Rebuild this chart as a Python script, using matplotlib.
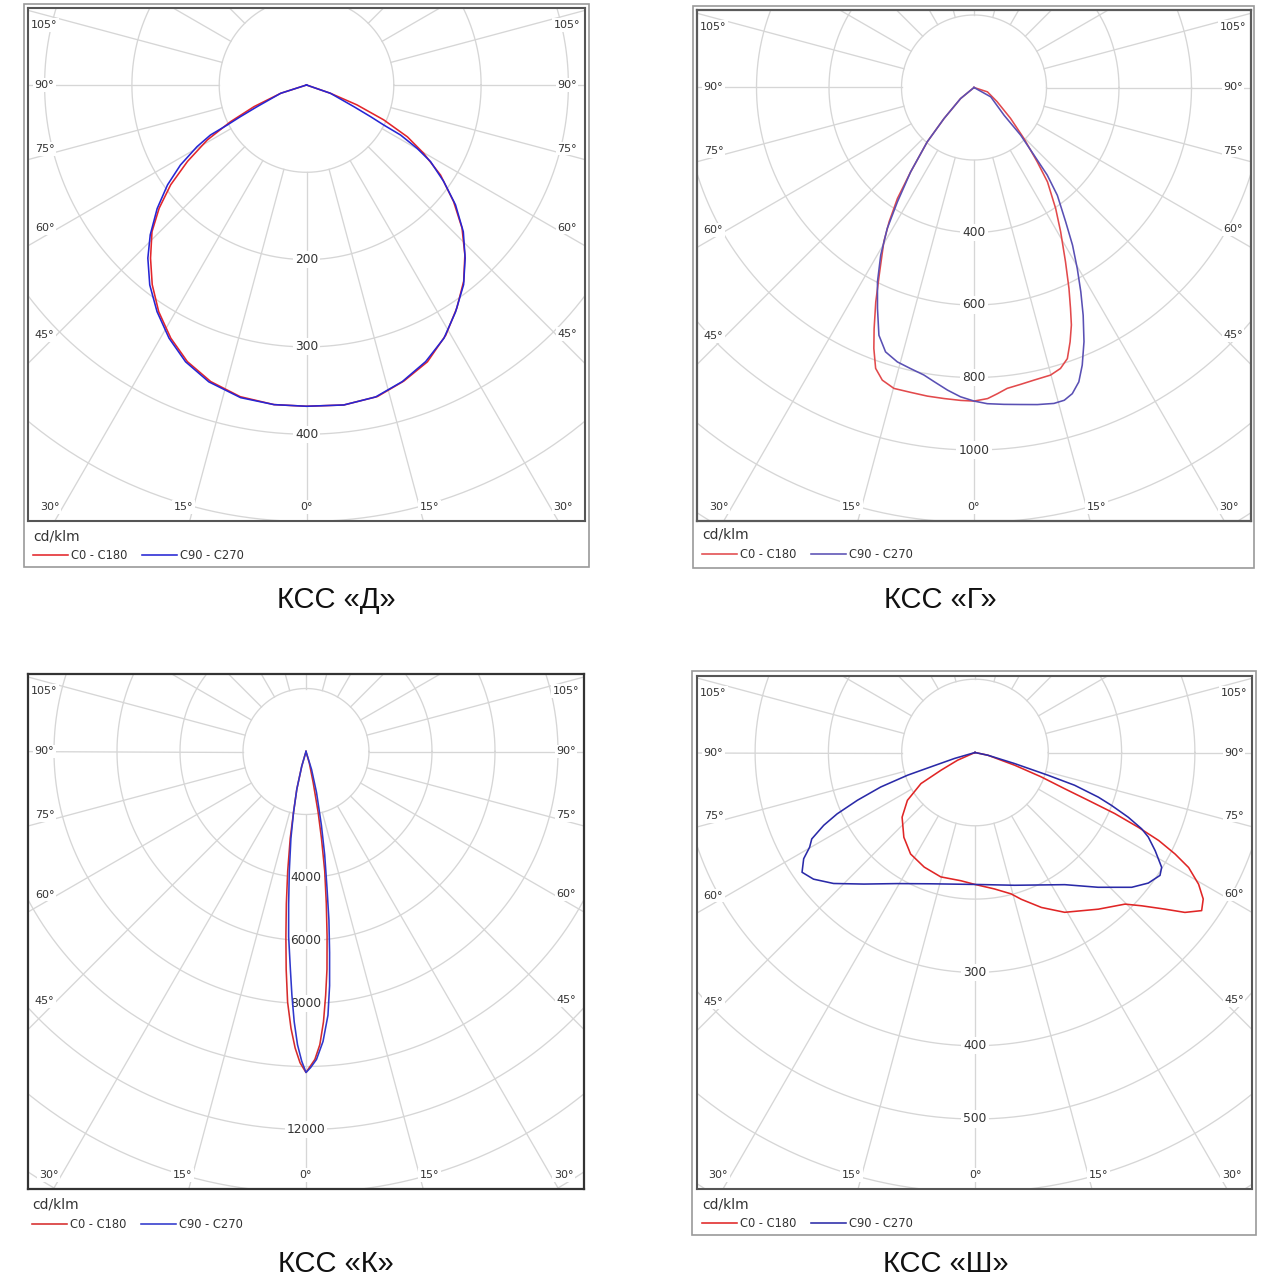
import numpy as np
import matplotlib
matplotlib.use("Agg")
import matplotlib.pyplot as plt
from matplotlib.patches import Rectangle

W = H = 1280

# ───── data: gamma (deg from nadir, negative = left half), intensity cd/klm ─────
# КСС «Д»
d_red_gamma = [-90, -72.2, -67.6, -64.2, -61, -57.3, -53.7, -50.1, -46.5, -42, -37.7, -33.1,
               -28.2, -23.3, -17.9, -12, -5.8, 0, 6.65, 12.8, 18.2, 23.6, 29.1, 34, 38.7, 43,
               47.4, 51.6, 56.1, 59.8, 62.8, 65.7, 68.5, 70.9, 90]
d_red_cd = [0, 31, 65, 97, 130, 162, 193, 220, 244, 267, 289, 310, 329, 345, 357, 365, 368,
            368, 369, 366, 357, 346, 328, 308, 288, 266, 242, 215, 185, 155, 130, 97, 62, 29, 0]
d_blue_gamma = [-90, -72.2, -66.3, -64.4, -63.2, -62.5, -60.6, -57.6, -54.3, -50.4, -46.2, -42.5,
                -38.1, -33.4, -28.5, -23.6, -18.2, -11.9, -5.8, 0, 6.65, 12.5, 17.9, 23.3, 28.5,
                33.3, 38.2, 42.5, 46.9, 51.2, 54.9, 58.3, 60.2, 62, 62.6, 63.7, 65.4, 70.9, 90]
d_blue_cd = [0, 31, 62, 84, 102, 124, 144, 171, 196, 222, 248, 269, 291, 311, 330, 346, 358,
             366, 368, 368, 369, 366, 357, 345, 330, 311, 291, 269, 246, 219, 192, 167, 146,
             122, 100, 82, 60, 29, 0]

# КСС «Г»
g_red_gamma = [-90, -50.5, -44, -40.7, -36.9, -34.6, -32.3, -30.3, -26.8, -24.6, -22.5, -21,
               -19.3, -17.4, -14.9, -11.7, -8.6, -5.5, -2.4, 0, 2.5, 4.4, 6.3, 8.9, 11.6, 14.9,
               17.1, 19, 20.7, 22.3, 23.6, 25.3, 27.7, 31, 34, 37.9, 40.4, 44.4, 49.8, 58.4, 72, 90]
g_red_cd = [0, 48, 119, 198, 291, 372, 438, 493, 580, 651, 720, 771, 821, 846, 859, 859, 861,
            862, 864, 865, 859, 847, 835, 829, 824, 821, 811, 791, 750, 708, 665, 613, 543, 464,
            403, 330, 269, 197, 132, 75, 39, 0]
g_blue_gamma = [-90, -50.5, -44, -40.7, -36.9, -33.8, -31.6, -29.1, -26.4, -23.6, -21, -18.5,
                -15.6, -12.7, -9.9, -7.7, -5, -2.5, 0, 2.4, 5.4, 8.4, 11.3, 14.2, 16.1, 17.8,
                19.6, 21.3, 23.4, 25.6, 27.6, 29.7, 32, 34.3, 37.7, 39.9, 41.6, 44.4, 47.3, 60.8, 90]
g_blue_cd = [0, 48, 119, 198, 291, 380, 457, 529, 599, 665, 732, 769, 786, 795, 805, 819, 838,
             854, 865, 873, 878, 884, 892, 899, 898, 887, 862, 822, 764, 697, 636, 575, 513, 449,
             376, 315, 249, 184, 113, 53, 0]

# КСС «К»
k_red_gamma = [-90, -16.1, -13.7, -11.6, -10.3, -8.7, -7.35, -6.2, -5.2, -4.2, -3.1, -2.1, -1.1,
               0, 0.6, 1.65, 2.7, 3.7, 4.6, 5.5, 6.5, 7.6, 8.9, 10.1, 11.3, 13, 16, 90]
k_red_cd = [0, 487, 1231, 1965, 2801, 3841, 4877, 5910, 6944, 7977, 8802, 9418, 9882, 10190,
            10036, 9780, 9318, 8599, 7773, 6948, 5913, 4878, 3842, 2798, 1962, 1014, 379, 0]
k_blue_gamma = [-90, -16.1, -13.7, -11.6, -9.85, -7.95, -6.5, -5.36, -4.1, -3.3, -2.5, -1.66,
                -0.8, 0, 0.83, 1.95, 3.36, 4.76, 5.75, 6.68, 7.74, 8.77, 10.26, 11.8, 14.4, 17.2, 90]
k_blue_cd = [0, 487, 1231, 1965, 2797, 3833, 4867, 5902, 6934, 7761, 8588, 9312, 9828, 10190,
             10037, 9782, 9220, 8401, 7474, 6440, 5405, 4367, 3328, 2391, 1342, 599, 0]

# КСС «Ш»
sh_red_gamma = [-90, -66.1, -62.5, -60.1, -54.7, -48.4, -40, -32.4, -23.9, -15.4, -6.3, 0, 8.1,
                14.3, 17.5, 23.2, 29.3, 38.2, 44.7, 47.4, 50.5, 52.7, 55.1, 57.3, 59.5, 61.7,
                63.1, 64.4, 65.4, 66.4, 67.1, 68, 69.8, 72.2, 78, 90]
sh_red_cd = [0, 26, 52, 85, 113, 133, 151, 164, 171, 176, 176, 180, 188, 199, 210, 230, 250,
             272, 291, 309, 336, 360, 377, 370, 354, 331, 306, 278, 245, 208, 168, 132, 96, 57, 18, 0]
sh_blue_gamma = [-90, -73.8, -72, -71.4, -69.9, -67.9, -66, -64.3, -62.1, -60.2, -58.2, -55.3,
                 -51.9, -47.2, -40.2, -30.7, -18.6, 0, 16.6, 34.2, 42.4, 49.3, 53, 56.4, 58.4,
                 61.4, 64, 65.4, 67.1, 68.8, 70.1, 71.8, 72.7, 74.4, 78, 90]
sh_blue_cd = [0, 29, 63, 97, 137, 173, 206, 229, 252, 260, 275, 287, 280, 263, 235, 208, 189,
              180, 189, 218, 249, 282, 296, 303, 299, 280, 263, 250, 227, 200, 179, 143, 104, 56, 18, 0]

angle_ticks = [-105, -90, -75, -60, -45, -30, -15, 0, 15, 30, 45, 60, 75, 90, 105]
series_names = ["C0 - C180", "C90 - C270"]

GRID = "#d6d6d6"
TXT = "#333333"


def fig_xy(x, y):
    return x / W, 1 - y / H


def polar_xy(gamma, cd):
    g = np.radians(np.asarray(gamma, dtype=float))
    cd = np.asarray(cd, dtype=float)
    return cd * np.sin(g), -cd * np.cos(g)


def label_pos(g, xlim, ylim, scale):
    # where a ray (nudged a little) meets the sides or bottom of the box, pulled inside
    ga = g + np.sign(g) * 1.3 if 0 < abs(g) < 90 else g
    dx, dy = np.sin(np.radians(ga)), -np.cos(np.radians(ga))
    x0, x1 = xlim[0] + 16.5 / scale, xlim[1] - 18 / scale
    y0, y1 = ylim[0] + 14 / scale, ylim[1] - 17 / scale
    ts = []
    if dx > 1e-9:
        ts.append(x1 / dx)
    if dx < -1e-9:
        ts.append(x0 / dx)
    if dy < -1e-9:
        ts.append(y0 / dy)
    t = min(ts)
    return t * dx, min(t * dy, y1)


def draw_panel(fig, box, center, scale, step, values, red, blue, colors,
               frame, edge, legend_at, title, title_at):
    L, T, R, B = box
    cx, cy = center
    ax = fig.add_axes([L / W, 1 - B / H, (R - L) / W, (B - T) / H])
    xlim = ((L - cx) / scale, (R - cx) / scale)
    ylim = ((cy - B) / scale, (cy - T) / scale)
    ax.set_xlim(*xlim)
    ax.set_ylim(*ylim)
    ax.set_xticks([])
    ax.set_yticks([])
    for s in ax.spines.values():
        s.set_color(edge[0])
        s.set_linewidth(edge[1])

    rmax = np.hypot(max(abs(xlim[0]), abs(xlim[1])), max(abs(ylim[0]), abs(ylim[1])))
    t = np.linspace(0, 2 * np.pi, 721)
    r = step
    while r < rmax + step:
        ax.plot(r * np.cos(t), r * np.sin(t), color=GRID, lw=0.95, zorder=1)
        r += step
    for a in range(0, 360, 15):
        ar = np.radians(a)
        ax.plot([step * np.sin(ar), rmax * np.sin(ar)], [-step * np.cos(ar), -rmax * np.cos(ar)],
                color=GRID, lw=0.95, zorder=1)

    for g in angle_ticks:
        x, y = label_pos(g, xlim, ylim, scale)
        ax.text(x, y, f"{abs(g)}°", ha="center", va="center", fontsize=8, color=TXT,
                zorder=3, bbox=dict(fc="white", ec="none", pad=1.2))
    for v in values:
        ax.text(0, -v, str(v), ha="center", va="center", fontsize=8.8, color=TXT, zorder=3,
                bbox=dict(fc="white", ec="none", pad=1.5))

    lines = []
    for (gam, cd), col, name in zip([red, blue], colors, series_names):
        x, y = polar_xy(gam, cd)
        ln, = ax.plot(x, y, color=col, lw=1.15, zorder=4, label=name, solid_joinstyle="round")
        lines.append(ln)

    leg = ax.legend(handles=lines, title="cd/klm", loc="upper left",
                    bbox_to_anchor=fig_xy(*legend_at), bbox_transform=fig.transFigure,
                    ncol=2, frameon=False, fontsize=8.3, title_fontsize=10, alignment="left",
                    borderpad=0, borderaxespad=0, handlelength=3.0, handletextpad=0.3,
                    columnspacing=1.3)
    for txt in leg.get_texts():
        txt.set_color(TXT)
    leg.get_title().set_color(TXT)

    if frame is not None:
        fl, ft, fr, fb = frame
        fig.add_artist(Rectangle(fig_xy(fl, fb), (fr - fl) / W, (fb - ft) / H,
                                 transform=fig.transFigure, fill=False, ec="#9a9a9a", lw=1.2))
    fig.text(*fig_xy(*title_at), title, ha="center", va="center", fontsize=21,
             family="Liberation Sans", color="#111111")
    return ax


fig = plt.figure(figsize=(12.8, 12.8), dpi=100)
fig.patch.set_facecolor("white")

draw_panel(fig, (28, 8, 585, 521), (306.5, 85), 0.873, 100, [200, 300, 400],
           (d_red_gamma, d_red_cd), (d_blue_gamma, d_blue_cd), ("#e3262b", "#2626d4"),
           (24, 4, 589, 567), ("#555555", 1.5), (33, 529), "КСС «Д»", (336, 600))

draw_panel(fig, (697, 10, 1251, 521), (974, 87.5), 0.3625, 200, [400, 600, 800, 1000],
           (g_red_gamma, g_red_cd), (g_blue_gamma, g_blue_cd), ("#e24a4c", "#5a50b4"),
           (693, 6, 1254, 568), ("#5a5a5a", 1.6), (702, 528), "КСС «Г»", (940, 600))

draw_panel(fig, (28, 674, 584, 1189), (306, 751.5), 0.0315, 2000, [4000, 6000, 8000, 12000],
           (k_red_gamma, k_red_cd), (k_blue_gamma, k_blue_cd), ("#d62c2c", "#3038cc"),
           None, ("#333333", 1.6), (32, 1198), "КСС «К»", (336, 1264))

draw_panel(fig, (697, 676, 1252, 1189), (975, 752.5), 0.733, 100, [300, 400, 500],
           (sh_red_gamma, sh_red_cd), (sh_blue_gamma, sh_blue_cd), ("#e02626", "#2a2aa8"),
           (692, 671, 1256, 1235), ("#555555", 1.5), (702, 1197), "КСС «Ш»", (946, 1264))

fig.savefig("out.png", dpi=100, facecolor="white")
